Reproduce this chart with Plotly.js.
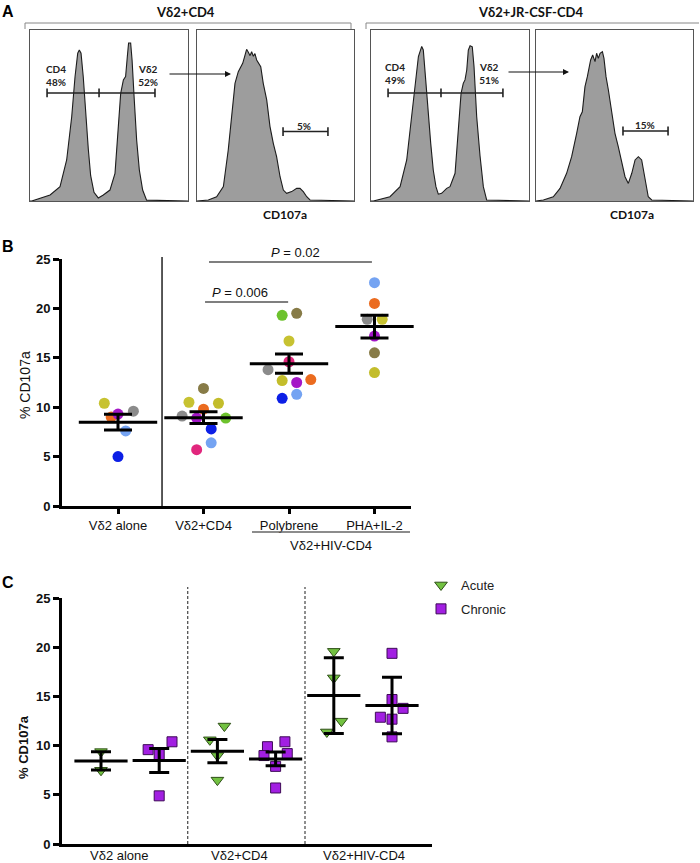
<!DOCTYPE html>
<html>
<head>
<meta charset="utf-8">
<script src="https://cdn.plot.ly/plotly-3.0.1.min.js"></script>
<style>
  html, body { margin: 0; padding: 0; background: #fff; }
  #chart { width: 700px; height: 863px; }
</style>
</head>
<body>
<div id="chart"></div>
<script>
// ---------- Panel A: flow histograms (channel 0-100, count as % of mode) ----------
const gateMockX = [0, 1.1, 12.7, 19.0, 23.2, 26.4, 28.5, 30.2, 31.2, 32.3, 33.7, 35.4, 36.9, 38.4, 40.5, 43.2, 46.4, 50.6, 53.8, 55.9, 57.4, 59.1, 60.5, 61.6, 62.4, 63.7, 64.6, 66.0, 67.5, 69.2, 71.3, 73.8, 100];
const gateMockY = [0, 0, 3.5, 8.4, 24.0, 49.3, 72.7, 86.4, 88.3, 86.4, 72.7, 49.3, 30.4, 14.8, 5.1, 1.8, 3.5, 6.4, 16.2, 43.5, 62.9, 70.8, 72.7, 84.5, 92.4, 92.4, 82.5, 59.1, 35.7, 18.1, 6.4, 0.5, 0];

const cd107MockX = [0, 7.2, 12.5, 16.8, 19.9, 22.1, 24.2, 26.3, 29.1, 30.2, 31.6, 32.7, 33.8, 34.8, 35.9, 36.9, 38.0, 40.6, 42.2, 44.4, 46.5, 48.6, 50.7, 52.9, 55.0, 57.1, 60.3, 63.5, 65.6, 67.7, 69.9, 72.0, 100];
const cd107MockY = [0, 0.6, 2.5, 8.4, 29.8, 49.3, 68.8, 75.6, 80.5, 84.0, 88.7, 87.0, 85.0, 87.3, 84.6, 86.2, 82.5, 78.6, 68.8, 59.1, 43.5, 33.7, 25.9, 14.2, 6.4, 4.5, 5.5, 7.4, 7.4, 5.5, 2.5, 0.6, 0];

const gateHivX = [0, 1.5, 12.0, 18.4, 22.6, 25.7, 27.8, 30.0, 32.1, 33.1, 34.8, 36.3, 37.8, 39.4, 41.1, 42.6, 44.7, 47.9, 50.0, 53.2, 55.3, 57.0, 58.4, 59.5, 60.6, 61.6, 62.7, 64.1, 65.2, 66.9, 69.0, 71.1, 73.2, 100];
const gateHivY = [0, 0, 2.5, 8.4, 24.0, 49.3, 68.8, 84.5, 90.4, 88.3, 68.8, 49.3, 33.7, 18.1, 8.4, 4.0, 4.5, 7.4, 8.4, 16.2, 39.6, 62.9, 68.8, 70.8, 76.6, 88.3, 90.8, 90.2, 78.6, 49.3, 26.5, 8.4, 0.6, 0];

const cd107HivX = [0, 4.7, 11.0, 15.3, 19.5, 22.7, 25.9, 28.0, 29.5, 30.1, 31.2, 32.7, 34.0, 34.8, 36.1, 37.6, 38.6, 39.7, 40.8, 42.3, 43.3, 44.6, 46.1, 48.2, 50.3, 52.4, 54.6, 56.7, 58.8, 61.0, 63.1, 65.2, 67.3, 69.4, 71.5, 73.7, 100];
const cd107HivY = [0, 0.6, 2.5, 7.4, 16.2, 25.9, 39.6, 49.3, 52.2, 59.1, 66.9, 72.7, 78.6, 82.5, 85.4, 81.5, 86.4, 83.4, 86.4, 87.3, 83.4, 72.7, 64.9, 53.2, 39.6, 31.8, 22.0, 14.2, 10.3, 16.2, 24.0, 25.9, 24.0, 12.3, 2.5, 0.6, 0];

// gate bounds (channel units) and gate percentages
const gateMockBounds = [10.8, 43.7, 79.1];
const gateHivBounds = [10.8, 44.3, 83.5];
const cd107MockBounds = [54.8, 83.4];
const cd107HivBounds = [55.4, 84.1];
const gateMockPct = ['48%', '52%'];
const gateHivPct = ['49%', '51%'];
const cd107MockPct = '5%';
const cd107HivPct = '15%';

// ---------- Panel B: % CD107a per donor ----------
const groupsB = ['Vδ2 alone', 'Vδ2+CD4', 'Polybrene', 'PHA+IL-2'];
const donorColors = {
  D1: '#c7c231', D2: '#eb6b1f', D3: '#a417c7', D4: '#8b8b8b', D5: '#74a3f2',
  D6: '#0c1fe6', D7: '#e1267d', D8: '#6dc22d', D9: '#877b47', D10: '#c3bd2b'
};
const aloneVals   = [10.4, 9.0, 9.3, 9.6, 7.6, 5.0];
const aloneDonors = ['D1', 'D2', 'D3', 'D4', 'D5', 'D6'];
const aloneJitter = [-0.16, -0.08, 0, 0.18, 0.09, 0];

const cd4Vals   = [11.9, 10.5, 10.4, 9.8, 9.1, 8.9, 8.9, 7.8, 6.4, 5.7];
const cd4Donors = ['D9', 'D1', 'D10', 'D2', 'D4', 'D3', 'D8', 'D6', 'D5', 'D7'];
const cd4Jitter = [0, -0.17, 0.175, 0, -0.25, -0.08, 0.26, 0.09, 0.09, -0.08];

const polyVals   = [19.3, 19.5, 16.7, 14.6, 13.8, 12.7, 12.5, 12.8, 10.9, 11.3];
const polyDonors = ['D8', 'D9', 'D1', 'D7', 'D4', 'D10', 'D3', 'D2', 'D6', 'D5'];
const polyJitter = [-0.08, 0.09, 0, 0, -0.245, -0.08, 0.09, 0.255, -0.08, 0.09];

const phaVals   = [22.6, 20.5, 18.9, 18.9, 17.2, 15.5, 13.5];
const phaDonors = ['D5', 'D2', 'D4', 'D1', 'D3', 'D9', 'D10'];
const phaJitter = [0, 0, -0.085, 0.09, 0, 0, 0];

const pValues = ['0.006', '0.02'];

// ---------- Panel C: acute vs chronic ----------
const groupsC = ['Vδ2 alone', 'Vδ2+CD4', 'Vδ2+HIV-CD4'];
const acuteAlone = [9.4, 7.5],                acuteAloneJit = [0, 0];
const acuteCd4   = [10.6, 12.0, 9.0, 6.5],    acuteCd4Jit   = [-0.13, 0.12, 0, 0];
const acuteHiv   = [19.6, 16.9, 12.5, 11.4],  acuteHivJit   = [0, 0, 0.13, -0.12];
const chronicAlone = [9.6, 9.1, 10.4, 4.9],             chronicAloneJit = [-0.19, 0, 0.22, 0];
const chronicCd4   = [9.9, 10.4, 9.0, 9.2, 7.9, 5.7],   chronicCd4Jit   = [-0.14, 0.16, -0.2, 0.2, 0, 0];
const chronicHiv   = [19.4, 14.7, 13.8, 12.9, 12.7, 10.9], chronicHivJit = [0, 0, 0.19, -0.2, 0, 0];
const acuteMean   = [8.45, 9.45, 15.1];
const acuteErr    = [0.93, 1.18, 3.85];
const chronicMean = [8.5, 8.65, 14.1];
const chronicErr  = [1.22, 0.7, 2.87];

// ---------- helpers ----------
const W = 700, H = 863;
const fx = p => p / W;
const fy = p => 1 - p / H;
const mean = a => a.reduce((s, v) => s + v, 0) / a.length;
const sem = a => {
  const m = mean(a);
  const sd = Math.sqrt(a.reduce((s, v) => s + (v - m) * (v - m), 0) / (a.length - 1));
  return sd / Math.sqrt(a.length);
};
const ARIAL = 'Liberation Sans, Arial, sans-serif';
const CAL = 'Lato, Liberation Sans, sans-serif';

const traces = [];

// histograms
function hist(x, y, n) {
  traces.push({
    type: 'scatter', mode: 'lines', x: x, y: y,
    xaxis: 'x' + (n === 1 ? '' : n), yaxis: 'y' + (n === 1 ? '' : n),
    fill: 'tozeroy', fillcolor: '#9d9d9d',
    line: { color: '#1c1c1c', width: 1.1 },
    showlegend: false, hoverinfo: 'skip'
  });
}
hist(gateMockX, gateMockY, 1);
hist(cd107MockX, cd107MockY, 2);
hist(gateHivX, gateHivY, 3);
hist(cd107HivX, cd107HivY, 4);

// panel B points
const bSets = [
  [aloneVals, aloneDonors, aloneJitter],
  [cd4Vals, cd4Donors, cd4Jitter],
  [polyVals, polyDonors, polyJitter],
  [phaVals, phaDonors, phaJitter]
];
bSets.forEach(([vals, donors, jit], gi) => {
  traces.push({
    type: 'scatter', mode: 'markers', xaxis: 'x5', yaxis: 'y5',
    x: vals.map((v, i) => gi + jit[i]), y: vals,
    marker: { size: 11, color: donors.map(d => donorColors[d]), line: { width: 0 } },
    showlegend: false, hoverinfo: 'skip', cliponaxis: false
  });
});
// mean ± SEM
traces.push({
  type: 'scatter', mode: 'markers', xaxis: 'x5', yaxis: 'y5',
  x: [0, 1, 2, 3], y: bSets.map(s => mean(s[0])),
  error_y: { type: 'data', array: bSets.map(s => sem(s[0])), visible: true, color: '#000', thickness: 3, width: 14 },
  marker: { symbol: 'line-ew', size: 56, color: '#000', line: { width: 3, color: '#000' } },
  showlegend: false, hoverinfo: 'skip', cliponaxis: false
});

// panel C points
const acuteSets = [[acuteAlone, acuteAloneJit], [acuteCd4, acuteCd4Jit], [acuteHiv, acuteHivJit]];
const chronicSets = [[chronicAlone, chronicAloneJit], [chronicCd4, chronicCd4Jit], [chronicHiv, chronicHivJit]];
function flatten(sets, offset) {
  const xs = [], ys = [];
  sets.forEach(([vals, jit], gi) => vals.forEach((v, i) => { xs.push(gi * 2 + offset + jit[i]); ys.push(v); }));
  return [xs, ys];
}
const [axs, ays] = flatten(acuteSets, 0);
const [cxs, cys] = flatten(chronicSets, 1);
traces.push({
  type: 'scatter', mode: 'markers', name: 'Acute', legendgroup: 'a',
  xaxis: 'x6', yaxis: 'y6', x: axs, y: ays,
  marker: { symbol: 'triangle-down', size: 11, color: '#72c141', line: { width: 1, color: '#2f4f18' } },
  hoverinfo: 'skip', cliponaxis: false
});
traces.push({
  type: 'scatter', mode: 'markers', name: 'Chronic', legendgroup: 'c',
  xaxis: 'x6', yaxis: 'y6', x: cxs, y: cys,
  marker: { symbol: 'square', size: 10, color: '#a21fe2', line: { width: 1, color: '#3e0b57' } },
  hoverinfo: 'skip', cliponaxis: false
});
traces.push({
  type: 'scatter', mode: 'markers', xaxis: 'x6', yaxis: 'y6',
  x: [0, 2, 4, 1, 3, 5],
  y: acuteMean.concat(chronicMean),
  error_y: { type: 'data', array: acuteErr.concat(chronicErr), visible: true, color: '#000', thickness: 3, width: 10 },
  marker: { symbol: 'line-ew', size: 38, color: '#000', line: { width: 3, color: '#000' } },
  showlegend: false, hoverinfo: 'skip', cliponaxis: false
});

// ---------- layout ----------
const boxAxis = (d) => ({
  domain: d, range: [0, 100], showgrid: false, zeroline: false, showticklabels: false,
  ticks: '', showline: true, mirror: true, linecolor: '#555', linewidth: 1.2, fixedrange: true
});
const histY = [fy(201), fy(30)];

const layout = {
  width: W, height: H,
  margin: { l: 0, r: 0, t: 0, b: 0 },
  paper_bgcolor: '#fff', plot_bgcolor: 'rgba(0,0,0,0)',
  showlegend: true,
  legend: {
    x: fx(421), y: fy(570), xanchor: 'left', yanchor: 'top',
    font: { family: ARIAL, size: 13, color: '#222' },
    bgcolor: 'rgba(0,0,0,0)', traceorder: 'grouped', tracegroupgap: 4, itemwidth: 30
  },
  xaxis:  Object.assign(boxAxis([fx(30), fx(188)]),  { anchor: 'y' }),
  yaxis:  Object.assign(boxAxis(histY), { anchor: 'x' }),
  xaxis2: Object.assign(boxAxis([fx(197), fx(354)]), { anchor: 'y2' }),
  yaxis2: Object.assign(boxAxis(histY), { anchor: 'x2' }),
  xaxis3: Object.assign(boxAxis([fx(371), fx(529)]), { anchor: 'y3' }),
  yaxis3: Object.assign(boxAxis(histY), { anchor: 'x3' }),
  xaxis4: Object.assign(boxAxis([fx(536), fx(693)]), { anchor: 'y4' }),
  yaxis4: Object.assign(boxAxis(histY), { anchor: 'x4' }),

  xaxis5: {
    domain: [fx(62), fx(411)], anchor: 'y5', range: [-0.655, 3.427],
    tickvals: [0, 1, 2, 3], ticktext: groupsB, ticks: 'outside', ticklen: 5, tickwidth: 3,
    tickcolor: '#000', showline: true, linewidth: 3, linecolor: '#000',
    showgrid: false, zeroline: false, fixedrange: true,
    tickfont: { family: ARIAL, size: 13, color: '#111' }
  },
  yaxis5: {
    domain: [fy(506), fy(259)], anchor: 'x5', range: [0, 25],
    tickvals: [0, 5, 10, 15, 20, 25], ticks: 'outside', ticklen: 6, tickwidth: 3,
    tickcolor: '#000', showline: true, linewidth: 3, linecolor: '#000',
    showgrid: false, zeroline: false, fixedrange: true,
    tickfont: { family: ARIAL, size: 13, color: '#111', weight: 'bold' }
  },
  xaxis6: {
    domain: [fx(62), fx(432)], anchor: 'y6', range: [-0.67, 5.687],
    showticklabels: false, ticks: '',
    showline: true, linewidth: 3, linecolor: '#000',
    showgrid: false, zeroline: false, fixedrange: true
  },
  yaxis6: {
    domain: [fy(844), fy(598.3)], anchor: 'x6', range: [0, 25],
    tickvals: [0, 5, 10, 15, 20, 25], ticks: 'outside', ticklen: 6, tickwidth: 3,
    tickcolor: '#000', showline: true, linewidth: 3, linecolor: '#000',
    showgrid: false, zeroline: false, fixedrange: true,
    tickfont: { family: ARIAL, size: 13, color: '#111', weight: 'bold' }
  },
  shapes: [],
  annotations: []
};

const S = layout.shapes, A = layout.annotations;
const pline = (x0, y0, x1, y1, color, width, dash) => S.push({
  type: 'line', xref: 'paper', yref: 'paper', x0: fx(x0), y0: fy(y0), x1: fx(x1), y1: fy(y1),
  line: { color: color, width: width, dash: dash || 'solid' }
});
const ptext = (x, y, text, font, extra) => A.push(Object.assign({
  xref: 'paper', yref: 'paper', x: fx(x), y: fy(y), text: text, showarrow: false,
  xanchor: 'center', yanchor: 'middle', font: font
}, extra || {}));

// panel letters
ptext(8, 11, 'A', { family: ARIAL, size: 16, color: '#000', weight: 'bold' });
ptext(8, 247, 'B', { family: ARIAL, size: 16, color: '#000', weight: 'bold' });
ptext(8, 582, 'C', { family: ARIAL, size: 16, color: '#000', weight: 'bold' });

// panel A headers and brackets
ptext(185, 12, 'Vδ2+CD4', { family: CAL, size: 13, color: '#111', weight: 'bold' });
ptext(530, 12, 'Vδ2+JR-CSF-CD4', { family: CAL, size: 13, color: '#111', weight: 'bold' });
pline(25, 23, 351, 23, '#888', 1);
pline(25, 23, 25, 29, '#888', 1);
pline(351, 23, 351, 29, '#888', 1);
pline(366, 23, 699, 23, '#888', 1);
pline(366, 23, 366, 29, '#888', 1);

// gates inside histogram boxes
function gate(axisN, bounds, yv) {
  const xr = 'x' + (axisN === 1 ? '' : axisN), yr = 'y' + (axisN === 1 ? '' : axisN);
  S.push({ type: 'line', xref: xr, yref: yr, x0: bounds[0], x1: bounds[bounds.length - 1], y0: yv, y1: yv,
           line: { color: '#222', width: 1.6 } });
  bounds.forEach(b => S.push({ type: 'line', xref: xr, yref: yr, x0: b, x1: b, y0: yv - 2.6, y1: yv + 2.6,
           line: { color: '#222', width: 1.6 } }));
}
gate(1, gateMockBounds, 63.2);
gate(3, gateHivBounds, 63.2);
gate(2, cd107MockBounds, 40.6);
gate(4, cd107HivBounds, 40.9);

const gateFont = { family: CAL, size: 10, color: '#222', weight: 'bold' };
const atext = (axisN, x, y, text) => A.push({
  xref: 'x' + (axisN === 1 ? '' : axisN), yref: 'y' + (axisN === 1 ? '' : axisN),
  x: x, y: y, text: text, showarrow: false, font: gateFont, xanchor: 'center', yanchor: 'middle'
});
atext(1, 16.5, 73.5, 'CD4<br>' + gateMockPct[0]);
atext(1, 74.7, 73.5, 'Vδ2<br>' + gateMockPct[1]);
atext(3, 15.2, 74.5, 'CD4<br>' + gateHivPct[0]);
atext(3, 74.7, 74.5, 'Vδ2<br>' + gateHivPct[1]);
atext(2, 68.2, 44.0, cd107MockPct);
atext(4, 69.4, 44.6, cd107HivPct);

// arrows from Vδ2 gate to CD107a histograms
A.push({ xref: 'paper', yref: 'paper', x: fx(231), y: fy(74), ax: -63, ay: 0, text: '',
         showarrow: true, arrowhead: 2, arrowsize: 1, arrowwidth: 1.2, arrowcolor: '#111' });
A.push({ xref: 'paper', yref: 'paper', x: fx(569), y: fy(72), ax: -62, ay: 0, text: '',
         showarrow: true, arrowhead: 2, arrowsize: 1, arrowwidth: 1.2, arrowcolor: '#111' });

ptext(285, 215, 'CD107a', { family: CAL, size: 12, color: '#111', weight: 'bold' });
ptext(632, 215, 'CD107a', { family: CAL, size: 12, color: '#111', weight: 'bold' });

// panel B: separator, P-value bars, bottom grouping bracket
S.push({ type: 'line', xref: 'x5', yref: 'paper', x0: 0.515, x1: 0.515, y0: fy(506), y1: fy(257),
         line: { color: '#111', width: 1.4 } });
S.push({ type: 'line', xref: 'x5', yref: 'y5', x0: 1.064, x1: 2.97, y0: 24.7, y1: 24.7,
         line: { color: '#555', width: 1.4 } });
S.push({ type: 'line', xref: 'x5', yref: 'y5', x0: 1.018, x1: 1.99, y0: 20.65, y1: 20.65,
         line: { color: '#555', width: 1.4 } });
ptext(295, 252, '<i>P</i> = ' + pValues[1], { family: ARIAL, size: 13, color: '#111' });
ptext(240, 293, '<i>P</i> = ' + pValues[0], { family: ARIAL, size: 13, color: '#111' });
pline(252, 532, 410, 532, '#666', 1.4);
ptext(331, 545, 'Vδ2+HIV-CD4', { family: ARIAL, size: 13, color: '#111' });
ptext(25, 385, '% CD107a', { family: ARIAL, size: 14, color: '#111' }, { textangle: -90 });

// panel C: dashed separators, group labels, axis title
[1.49, 3.505].forEach(xv => S.push({ type: 'line', xref: 'x6', yref: 'paper', x0: xv, x1: xv,
  y0: fy(844), y1: fy(587), line: { color: '#444', width: 1.2, dash: '3px,2px' } }));
[119.5, 239, 364].forEach((xp, i) =>
  ptext(xp, 855.5, groupsC[i], { family: ARIAL, size: 13, color: '#111' }));
ptext(23, 747, '% CD107a', { family: ARIAL, size: 13, color: '#111', weight: 'bold' }, { textangle: -90 });

Plotly.newPlot('chart', traces, layout, { staticPlot: true, displayModeBar: false });
</script>
</body>
</html>
